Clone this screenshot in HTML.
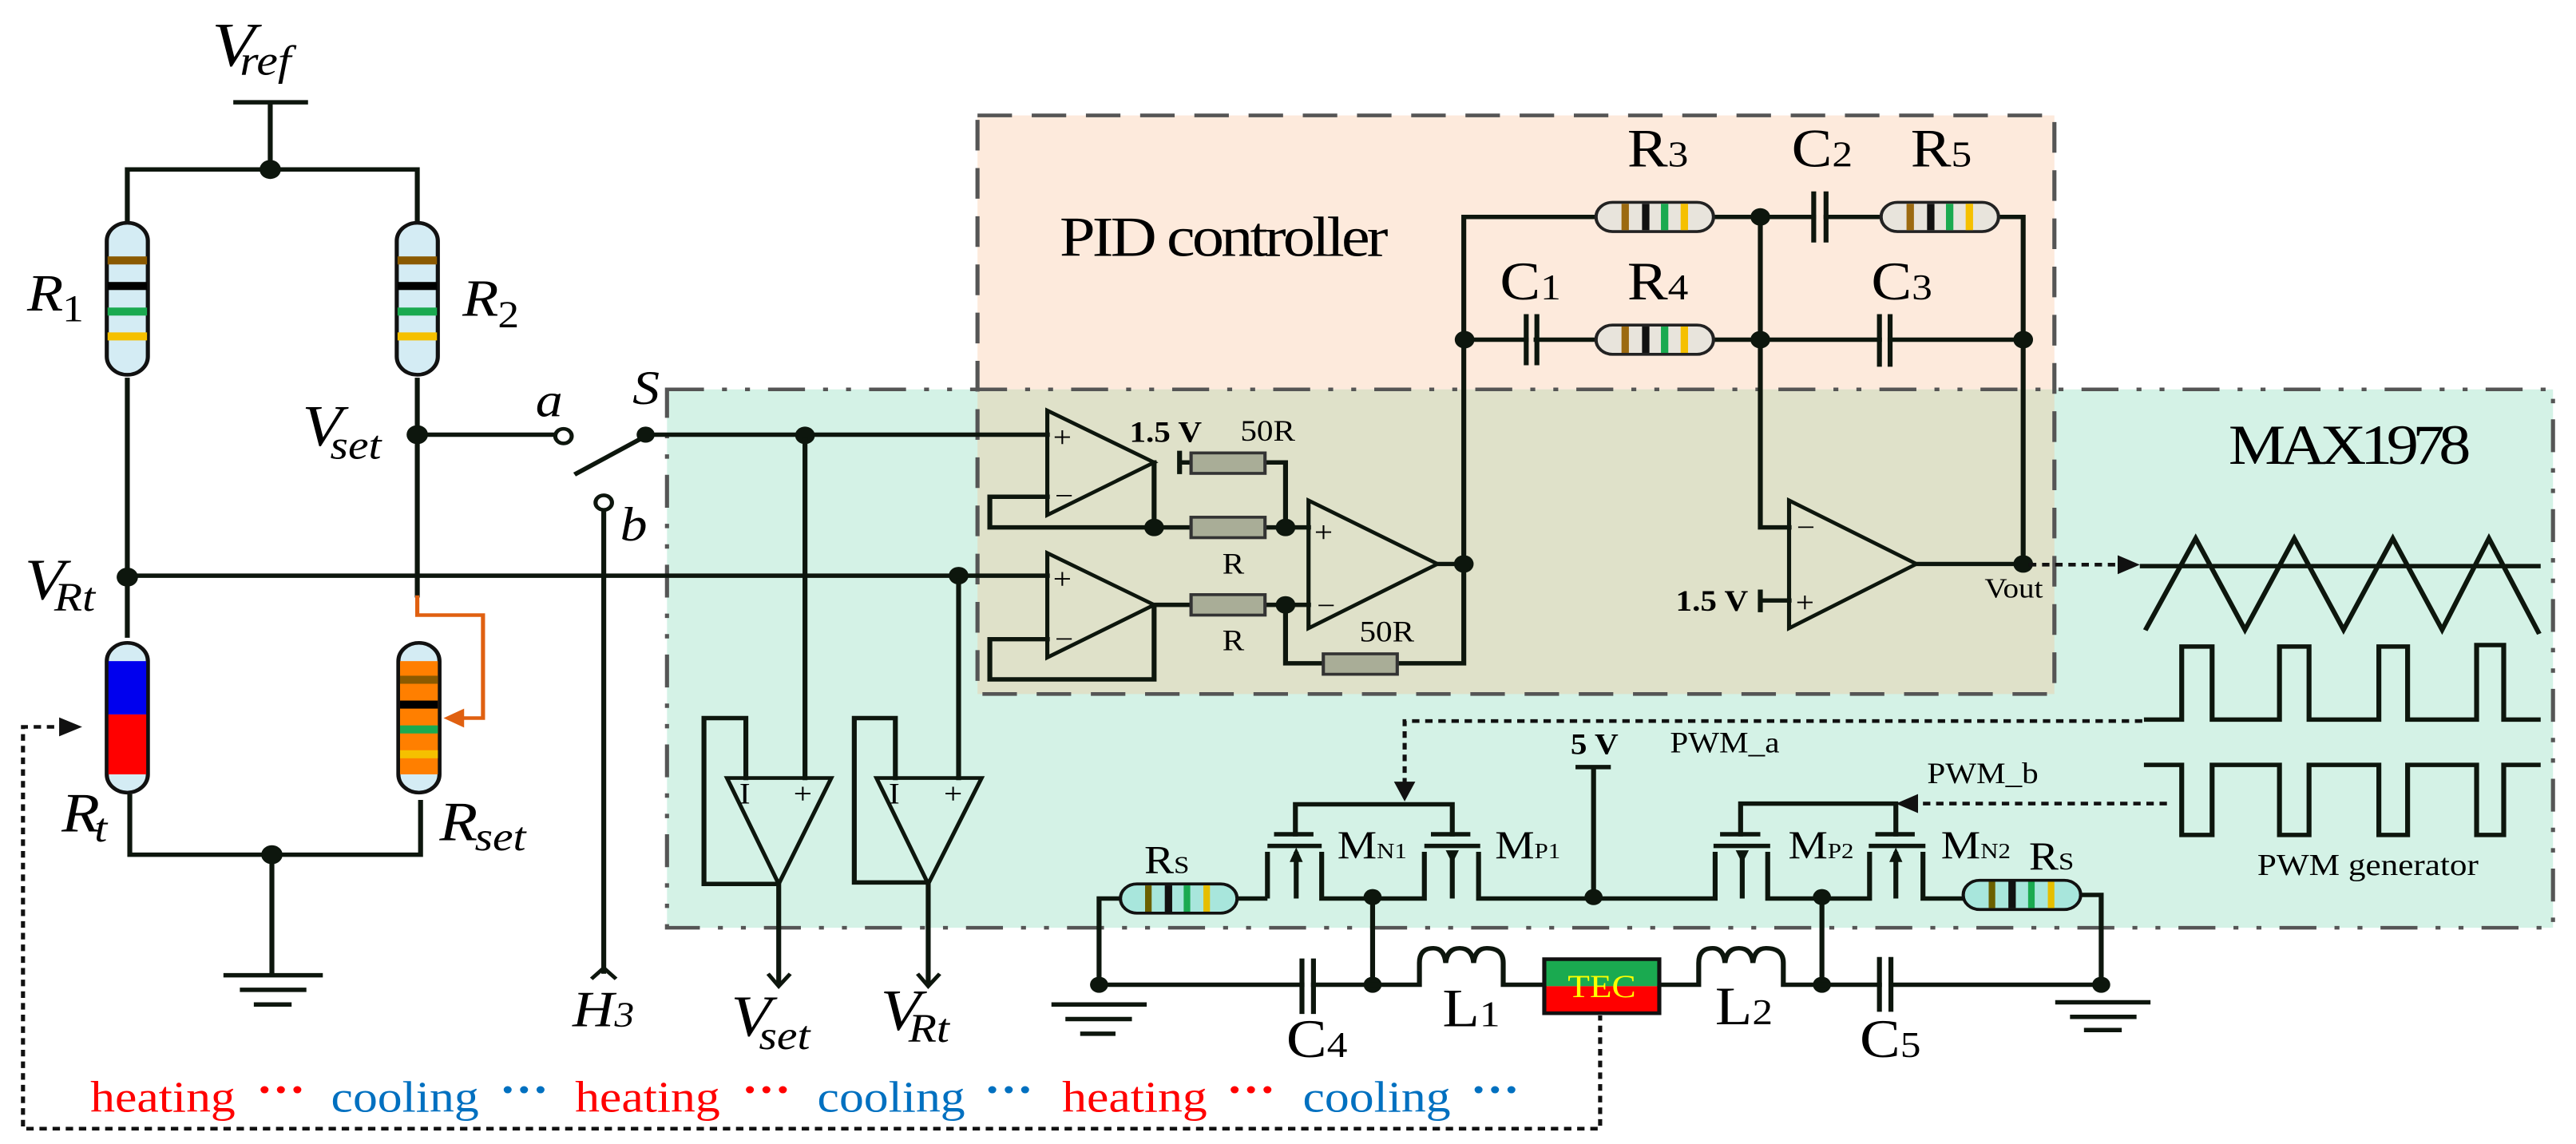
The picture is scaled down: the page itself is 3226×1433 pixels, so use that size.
<!DOCTYPE html>
<html><head><meta charset="utf-8"><style>
html,body{margin:0;padding:0;background:#fff}
svg{display:block}
text{font-family:"Liberation Serif",serif}
.w{stroke:#0d160d;stroke-width:6;fill:none;stroke-linecap:square}
.it{font-style:italic}
</style></head><body>
<svg width="3226" height="1433" viewBox="0 0 3136 1566" preserveAspectRatio="none" xmlns="http://www.w3.org/2000/svg" font-family="Liberation Serif, serif">
<!-- boxes -->
<rect x="812" y="533" width="2296" height="737" fill="#d4f2e6"/>
<rect x="1190" y="158" width="1311" height="375" fill="#fdeadc"/>
<rect x="1190" y="533" width="1311" height="417" fill="#dfe1c9"/>
<rect x="812" y="533" width="2296" height="737" fill="none" stroke="#555" stroke-width="5" stroke-dasharray="45 22 6 22 6 22"/>
<rect x="1190" y="158" width="1311" height="792" fill="none" stroke="#555" stroke-width="5" stroke-dasharray="42 24"/>

<!-- Vref & bridge -->
<text x="258" y="90" font-size="86" class="it">V</text><text x="292" y="102" font-size="58" class="it">ref</text>
<path class="w" d="M287 140H372M329 140V232M155 305V232H508V305"/>
<circle cx="329" cy="232" r="13" fill="#0d160d"/>
<g stroke="#111" stroke-width="5">
<rect x="130" y="305" width="50" height="208" rx="25" fill="#d4ecf4"/>
<rect x="483" y="305" width="50" height="208" rx="25" fill="#d4ecf4"/>
</g>
<g>
<rect x="131" y="351" width="48" height="11" fill="#8b5a00"/><rect x="131" y="386" width="48" height="11" fill="#000"/><rect x="131" y="421" width="48" height="11" fill="#1aaa50"/><rect x="131" y="455" width="48" height="11" fill="#f5c000"/>
<rect x="484" y="351" width="48" height="11" fill="#8b5a00"/><rect x="484" y="386" width="48" height="11" fill="#000"/><rect x="484" y="421" width="48" height="11" fill="#1aaa50"/><rect x="484" y="455" width="48" height="11" fill="#f5c000"/>
</g>
<text x="33" y="425" font-size="72" class="it">R</text><text x="76" y="440" font-size="52">1</text>
<text x="563" y="432" font-size="72" class="it">R</text><text x="606" y="448" font-size="52">2</text>
<path class="w" d="M155 520V870M508 520V815M508 595H676M155 788H1275M735 698V1330M786 595H1275"/>
<circle cx="155" cy="790" r="13" fill="#0d160d"/><circle cx="508" cy="595" r="13" fill="#0d160d"/>
<circle cx="686" cy="597" r="10" fill="#fff" stroke="#0d160d" stroke-width="5"/>
<circle cx="735" cy="688" r="10" fill="#fff" stroke="#0d160d" stroke-width="5"/>
<path class="w" d="M702 648L786 597"/><circle cx="786" cy="595" r="11" fill="#0d160d"/>
<circle cx="980" cy="596" r="12" fill="#0d160d"/><circle cx="1167" cy="788" r="12" fill="#0d160d"/>
<path d="M720 1340L735 1325L750 1340" fill="none" stroke="#0d160d" stroke-width="5"/>
<text x="368" y="610" font-size="80" class="it">V</text><text x="402" y="628" font-size="56" class="it">set</text>
<text x="30" y="820" font-size="80" class="it">V</text><text x="66" y="836" font-size="56" class="it">Rt</text>
<text x="652" y="570" font-size="66" class="it">a</text><text x="770" y="553" font-size="66" class="it">S</text><text x="755" y="740" font-size="66" class="it">b</text>
<text x="697" y="1405" font-size="70" class="it">H</text><text x="748" y="1405" font-size="48" class="it">3</text>
<!-- orange -->
<path d="M508 815V842H588V983H558" fill="none" stroke="#e06010" stroke-width="5"/>
<path d="M540 983L565 970V996Z" fill="#e06010"/>
<!-- Rt Rset -->
<rect x="130" y="880" width="50" height="205" rx="25" fill="#d4ecf4" stroke="#111" stroke-width="5"/>
<rect x="132" y="905" width="46" height="73" fill="#0000ee"/><rect x="132" y="978" width="46" height="82" fill="#ff0000"/>
<rect x="485" y="880" width="50" height="205" rx="25" fill="#d4ecf4" stroke="#111" stroke-width="5"/>
<rect x="487" y="905" width="46" height="155" fill="#ff7f00"/>
<rect x="487" y="925" width="46" height="11" fill="#8b5a00"/><rect x="487" y="959" width="46" height="11" fill="#000"/><rect x="487" y="993" width="46" height="11" fill="#1aaa50"/><rect x="487" y="1027" width="46" height="11" fill="#f5c000"/>
<text x="75" y="1138" font-size="76" class="it">R</text><text x="115" y="1152" font-size="56" class="it">t</text>
<text x="535" y="1150" font-size="76" class="it">R</text><text x="578" y="1164" font-size="56" class="it">set</text>
<path class="w" d="M158 1090V1170H512V1098M331 1170V1335M275 1335H390M295 1355H370M312 1375H352"/>
<circle cx="331" cy="1170" r="13" fill="#0d160d"/>
<!-- feedback dashed -->
<path d="M82 995H28V1545H1948V1390" fill="none" stroke="#111" stroke-width="5" stroke-dasharray="9 7"/>
<path d="M100 995L72 982V1008Z" fill="#111"/>
<!-- heating/cooling -->
<g font-size="60">
<text x="110" y="1522" fill="#ff0000">heating</text><text x="312" y="1512" fill="#ff0000" font-weight="bold">···</text>
<text x="403" y="1522" fill="#0070c0">cooling</text><text x="608" y="1512" fill="#0070c0" font-weight="bold">···</text>
<text x="700" y="1522" fill="#ff0000">heating</text><text x="903" y="1512" fill="#ff0000" font-weight="bold">···</text>
<text x="995" y="1522" fill="#0070c0">cooling</text><text x="1198" y="1512" fill="#0070c0" font-weight="bold">···</text>
<text x="1293" y="1522" fill="#ff0000">heating</text><text x="1493" y="1512" fill="#ff0000" font-weight="bold">···</text>
<text x="1586" y="1522" fill="#0070c0">cooling</text><text x="1790" y="1512" fill="#0070c0" font-weight="bold">···</text>
</g>
<!-- buffers -->
<g stroke="#0d160d" stroke-width="5" fill="#d4f2e6">
<polygon points="885,1065 1012,1065 948,1210"/>
<polygon points="1067,1065 1195,1065 1130,1210"/>
</g>
<path class="w" d="M908 1065V983H857V1210H948M980 602V1065M948 1210V1345M1090 1065V983H1040V1208H1130M1167 795V1065M1130 1210V1345"/>
<path d="M935 1333L948 1350L962 1333M1117 1333L1130 1350L1144 1333" fill="none" stroke="#0d160d" stroke-width="5"/>
<text x="900" y="1100" font-size="40">I</text><text x="966" y="1100" font-size="40">+</text>
<text x="1082" y="1100" font-size="40">I</text><text x="1149" y="1100" font-size="40">+</text>
<text x="890" y="1418" font-size="80" class="it">V</text><text x="924" y="1436" font-size="56" class="it">set</text>
<text x="1072" y="1410" font-size="80" class="it">V</text><text x="1106" y="1426" font-size="56" class="it">Rt</text>
<!-- PID -->
<text x="1290" y="350" font-size="78" textLength="400">PID controller</text>
<g stroke="#0d160d" stroke-width="5" fill="none">
<polygon points="1275,562 1275,705 1405,633"/><polygon points="1275,757 1275,900 1405,828"/>
<polygon points="1593,685 1593,860 1750,772"/><polygon points="2178,685 2178,860 2333,772"/>
</g>
<g font-size="40"><text x="1282" y="612">+</text><text x="1284" y="692">−</text><text x="1282" y="806">+</text><text x="1284" y="888">−</text>
<text x="1600" y="742">+</text><text x="1603" y="842">−</text><text x="2187" y="735">−</text><text x="2186" y="838">+</text></g>
<path class="w" d="M1275 680H1205V722H1450M1405 633V722M1540 722H1593M1275 875H1205V930H1405V828H1450M1540 828H1593M1565 722V633H1540M1436 633H1450M1436 620V646M1565 828V908H1611M1701 908H1782V297H1943M1750 772H1782M2086 297H2208M2223 297H2290M2433 297H2463V772M1783 465H1858M1870 465H1943M2086 465H2288M2301 465H2463M2143 297V722H2178M2143 822H2178M2143 810V835M2333 772H2463"/>
<g fill="#a9ad97" stroke="#333" stroke-width="4">
<rect x="1450" y="620" width="90" height="28"/><rect x="1450" y="708" width="90" height="28"/><rect x="1450" y="814" width="90" height="28"/><rect x="1611" y="895" width="90" height="28"/>
</g>
<text x="1375" y="605" font-size="40" font-weight="bold">1.5 V</text><text x="1510" y="603" font-size="40">50R</text>
<text x="1488" y="785" font-size="40">R</text><text x="1488" y="890" font-size="40">R</text><text x="1655" y="878" font-size="40">50R</text>
<text x="2040" y="836" font-size="40" font-weight="bold">1.5 V</text><text x="2416" y="818" font-size="38">Vout</text>
<g fill="#0d160d"><circle cx="1405" cy="722" r="12"/><circle cx="1565" cy="722" r="12"/><circle cx="1565" cy="828" r="12"/><circle cx="1782" cy="772" r="12"/><circle cx="1783" cy="465" r="12"/><circle cx="2143" cy="297" r="12"/><circle cx="2143" cy="465" r="12"/><circle cx="2463" cy="465" r="12"/><circle cx="2463" cy="772" r="12"/></g>
<g stroke="#0d160d" stroke-width="6"><path d="M2208 262V332M2223 262V332M1858 430V500M1871 430V500M2288 430V502M2301 430V502"/></g>
<g stroke="#222" stroke-width="4" fill="#e8e4dc">
<rect x="1943" y="277" width="143" height="40" rx="20"/><rect x="1943" y="445" width="143" height="40" rx="20"/><rect x="2290" y="277" width="143" height="40" rx="20"/>
</g>
<g>
<rect x="1974" y="279" width="9" height="36" fill="#9c6a10"/><rect x="1999" y="279" width="9" height="36" fill="#111"/><rect x="2022" y="279" width="9" height="36" fill="#1aaa50"/><rect x="2046" y="279" width="9" height="36" fill="#f5c000"/>
<rect x="1974" y="447" width="9" height="36" fill="#9c6a10"/><rect x="1999" y="447" width="9" height="36" fill="#111"/><rect x="2022" y="447" width="9" height="36" fill="#1aaa50"/><rect x="2046" y="447" width="9" height="36" fill="#f5c000"/>
<rect x="2321" y="279" width="9" height="36" fill="#9c6a10"/><rect x="2346" y="279" width="9" height="36" fill="#111"/><rect x="2369" y="279" width="9" height="36" fill="#1aaa50"/><rect x="2393" y="279" width="9" height="36" fill="#f5c000"/>
</g>
<g font-size="74"><text x="1981" y="228">R<tspan font-size="50">3</tspan></text><text x="2181" y="228">C<tspan font-size="50">2</tspan></text><text x="2326" y="228">R<tspan font-size="50">5</tspan></text>
<text x="1826" y="410">C<tspan font-size="50">1</tspan></text><text x="1981" y="410">R<tspan font-size="50">4</tspan></text><text x="2278" y="410">C<tspan font-size="50">3</tspan></text></g>
<!-- MAX1978 waveforms -->
<text x="2713" y="635" font-size="78" textLength="295">MAX1978</text>
<path d="M2470 773H2590" fill="none" stroke="#111" stroke-width="5" stroke-dasharray="9 7"/><path d="M2605 773L2578 760V786Z" fill="#111"/>
<path class="w" d="M2608 775H3090M2613 860L2673 737L2733 862L2793 737L2853 862L2913 737L2973 862L3030 737L3090 865"/>
<path class="w" d="M2613 985H2656V885H2693V985H2775V885H2811V985H2896V885H2931V985H3015V883H3048V985H3090"/>
<path class="w" d="M2613 1047H2656V1143H2693V1047H2775V1143H2811V1047H2896V1143H2931V1047H3015V1143H3048V1047H3090"/>
<text x="2748" y="1198" font-size="42">PWM generator</text>
<path d="M2608 987H1710V1075M2638 1100H2325" fill="none" stroke="#111" stroke-width="5" stroke-dasharray="9 7"/>
<path d="M1710 1097L1697 1070H1723Z M2308 1100L2335 1087V1113Z" fill="#111"/>
<!-- MOSFETs -->
<path class="w" d="M1577 1142V1101H1768V1142M2119 1142V1100H2308V1142"/>
<g stroke="#0d160d" stroke-width="6" fill="none">
<path d="M1551 1142H1599M1543 1158H1609M1734 1158H1802M1742 1142H1790M2094 1142H2143M2086 1158H2155M2283 1142H2331M2275 1158H2344"/>
<path d="M1543 1166V1230M1578 1166V1230M1609 1166V1230H1734V1166M1768 1166V1230M1800 1166V1230H2088V1166M2121 1166V1230M2152 1166V1230H2276V1166M2308 1166V1230M2341 1166V1230H2390M1506 1230H1543M1364 1230H1338V1348"/>
<path d="M1671 1230V1348M2218 1230V1348M1940 1050V1230M1918 1050H1961M2533 1225H2558V1348"/>
</g>
<path d="M1578 1160L1570 1180H1586Z M1768 1182L1760 1164H1776Z M2121 1182L2113 1164H2129Z M2308 1160L2300 1180H2316Z" fill="#0d160d"/>
<g fill="#0d160d"><circle cx="1671" cy="1228" r="11"/><circle cx="1940" cy="1228" r="11"/><circle cx="2218" cy="1228" r="11"/><circle cx="1338" cy="1348" r="11"/><circle cx="1671" cy="1348" r="11"/><circle cx="2218" cy="1348" r="11"/><circle cx="2558" cy="1348" r="11"/></g>
<g font-size="54"><text x="1628" y="1175">M<tspan font-size="30">N1</tspan></text><text x="1820" y="1175">M<tspan font-size="30">P1</tspan></text>
<text x="2177" y="1175">M<tspan font-size="30">P2</tspan></text><text x="2363" y="1175">M<tspan font-size="30">N2</tspan></text>
<text x="1393" y="1195">R<tspan font-size="34">S</tspan></text><text x="2470" y="1190">R<tspan font-size="34">S</tspan></text></g>
<text x="1912" y="1032" font-size="40" font-weight="bold">5 V</text>
<text x="2033" y="1030" font-size="40">PWM_a</text><text x="2346" y="1072" font-size="40">PWM_b</text>
<g stroke="#111" stroke-width="4" fill="#a8e6dc"><rect x="1364" y="1210" width="142" height="40" rx="20"/><rect x="2390" y="1205" width="143" height="40" rx="20"/></g>
<rect x="1394" y="1212" width="8" height="36" fill="#6b6000"/><rect x="1418" y="1212" width="9" height="36" fill="#111"/><rect x="1441" y="1212" width="8" height="36" fill="#1aaa50"/><rect x="1465" y="1212" width="8" height="36" fill="#e6be00"/>
<rect x="2421" y="1207" width="8" height="36" fill="#6b6000"/><rect x="2445" y="1207" width="9" height="36" fill="#111"/><rect x="2469" y="1207" width="8" height="36" fill="#1aaa50"/><rect x="2493" y="1207" width="8" height="36" fill="#e6be00"/>
<!-- bottom power stage -->
<path class="w" d="M1338 1348H1585M1599 1348H1728V1318Q1728 1298 1745 1298Q1758 1298 1760 1318Q1762 1298 1777 1298Q1792 1298 1794 1318Q1796 1298 1810 1298Q1830 1298 1830 1318V1348H1880M2020 1348H2068V1318Q2068 1298 2085 1298Q2098 1298 2100 1318Q2102 1298 2117 1298Q2132 1298 2134 1318Q2136 1298 2150 1298Q2171 1298 2171 1318V1348H2288M2302 1348H2558M1283 1375H1393M1300 1395H1375M1318 1415H1355M2505 1372H2615M2523 1392H2598M2540 1410H2580"/>
<path d="M1585 1312V1388M1599 1312V1388M2288 1310V1385M2302 1310V1385" stroke="#0d160d" stroke-width="6"/>
<rect x="1880" y="1313" width="140" height="37" fill="#1aaa50"/><rect x="1880" y="1350" width="140" height="37" fill="#ff0000"/>
<rect x="1880" y="1313" width="140" height="74" fill="none" stroke="#111" stroke-width="5"/>
<text x="1950" y="1365" font-size="44" fill="#ffff00" text-anchor="middle">TEC</text>
<g font-size="74"><text x="1566" y="1447">C<tspan font-size="50">4</tspan></text><text x="1756" y="1405">L<tspan font-size="50">1</tspan></text>
<text x="2088" y="1402">L<tspan font-size="50">2</tspan></text><text x="2264" y="1447">C<tspan font-size="50">5</tspan></text></g>
</svg>
</body></html>
